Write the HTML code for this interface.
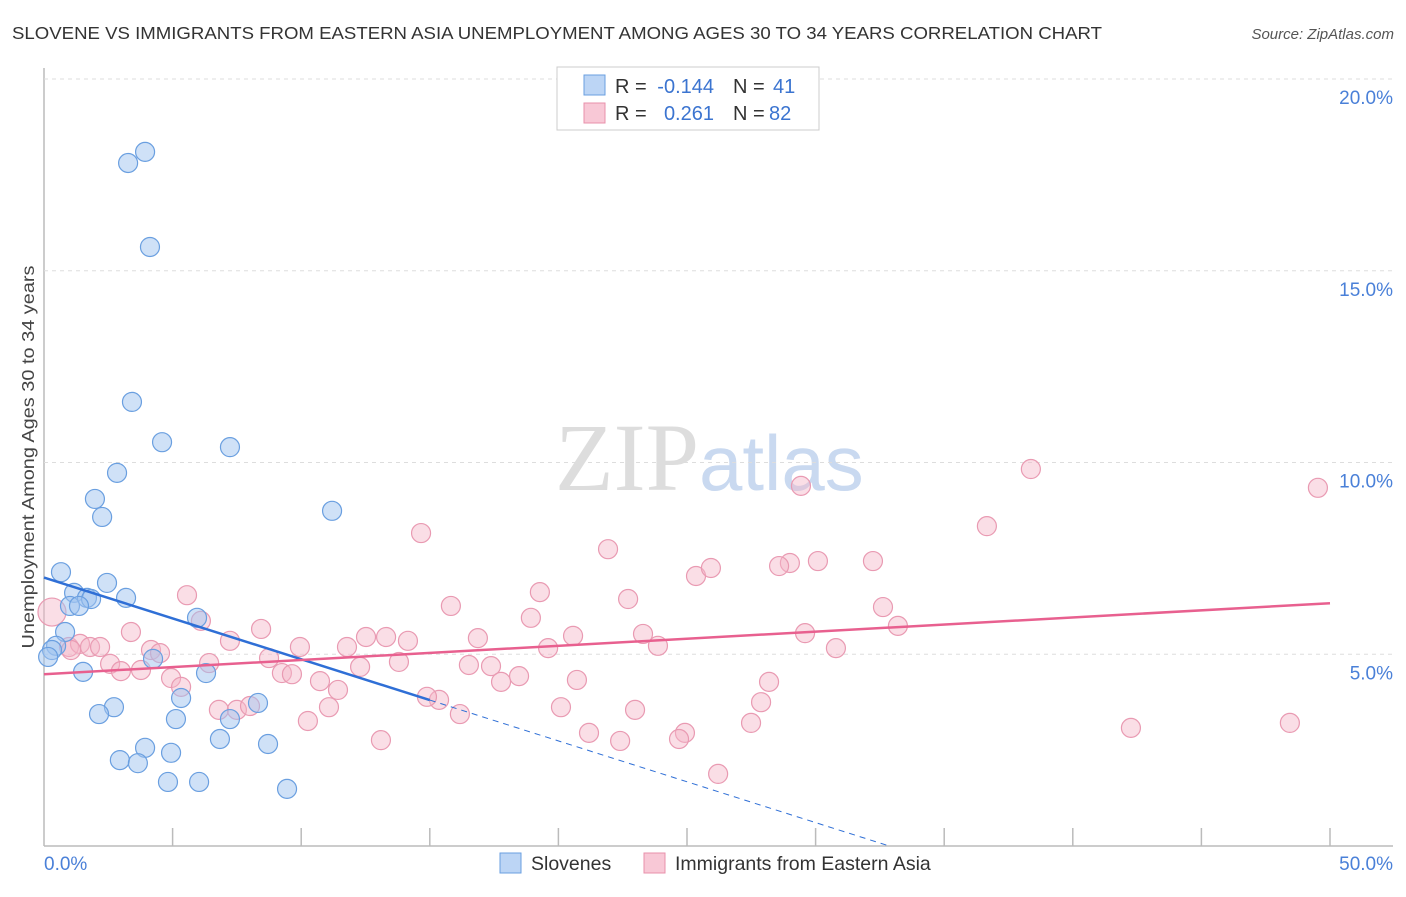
<!DOCTYPE html>
<html><head><meta charset="utf-8"><style>
body{margin:0;background:#fff;font-family:"Liberation Sans",sans-serif;}
</style></head><body>
<svg id="chart" width="1406" height="892" xmlns="http://www.w3.org/2000/svg" font-family="Liberation Sans, sans-serif">
<text x="12" y="39" font-size="17.5" fill="#333" textLength="1090" lengthAdjust="spacingAndGlyphs">SLOVENE VS IMMIGRANTS FROM EASTERN ASIA UNEMPLOYMENT AMONG AGES 30 TO 34 YEARS CORRELATION CHART</text>
<text x="1394" y="39" font-size="15" fill="#555" text-anchor="end" font-style="italic">Source: ZipAtlas.com</text>
<text transform="translate(34,457) rotate(-90)" font-size="17.5" fill="#444" text-anchor="middle" textLength="383" lengthAdjust="spacingAndGlyphs">Unemployment Among Ages 30 to 34 years</text>
<text x="555" y="490" font-size="96" fill="#ddd" font-family="Liberation Serif, serif">ZIP<tspan fill="#c9d9f0" font-family="Liberation Sans, sans-serif" font-size="78">atlas</tspan></text>
<g id="grid"></g><g id="marks"></g>
<g>
<rect x="557" y="67" width="262" height="63" fill="#fff" stroke="#ccc"/>
<rect x="584" y="75" width="21" height="20" fill="#bcd5f5" stroke="#6a9fe0"/>
<rect x="584" y="103" width="21" height="20" fill="#f8c8d6" stroke="#e890ab"/>
<text x="615" y="93" font-size="20" fill="#333">R =</text>
<text x="714" y="93" font-size="20" fill="#3b74d0" text-anchor="end">-0.144</text>
<text x="733" y="93" font-size="20" fill="#333">N =</text>
<text x="773" y="93" font-size="20" fill="#3b74d0">41</text>
<text x="615" y="120" font-size="20" fill="#333">R =</text>
<text x="714" y="120" font-size="20" fill="#3b74d0" text-anchor="end">0.261</text>
<text x="733" y="120" font-size="20" fill="#333">N =</text>
<text x="769" y="120" font-size="20" fill="#3b74d0">82</text>
</g>
<g>
<rect x="500" y="853" width="21" height="20" fill="#bcd5f5" stroke="#6a9fe0"/>
<text x="531" y="870" font-size="19.5" fill="#333">Slovenes</text>
<rect x="644" y="853" width="21" height="20" fill="#f8c8d6" stroke="#e890ab"/>
<text x="675" y="870" font-size="19.5" fill="#333">Immigrants from Eastern Asia</text>
</g>
</svg>
<script>
const xTicks=[0,5,10,15,20,25,30,35,40,45,50];
const yTicks=[5,10,15,20];
const blueX=[3.93,3.27,4.12,3.42,4.59,7.23,2.84,1.98,2.26,11.20,0.66,2.45,1.17,1.67,1.83,3.19,1.01,1.36,5.95,0.82,0.47,0.31,0.16,4.24,1.52,6.30,5.33,2.72,8.32,2.14,5.13,7.23,6.84,8.71,3.93,4.94,2.95,3.65,4.82,6.03,9.45];
const blueY=[18.10,17.81,15.62,11.58,10.53,10.40,9.73,9.05,8.58,8.74,7.14,6.86,6.60,6.47,6.44,6.47,6.26,6.26,5.95,5.58,5.22,5.11,4.93,4.88,4.54,4.51,3.86,3.62,3.73,3.44,3.31,3.31,2.79,2.66,2.56,2.43,2.24,2.16,1.67,1.67,1.49];
const pinkX=[5.56,0.31,3.38,6.10,0.97,1.40,1.79,2.18,1.05,2.57,2.99,3.77,4.16,4.51,4.94,5.33,6.42,7.23,8.44,8.75,9.25,9.64,9.95,10.73,11.43,11.08,10.26,6.80,7.50,8.01,11.78,14.66,15.82,19.28,21.93,18.93,16.87,13.30,12.52,14.15,12.29,13.80,16.52,17.38,19.60,20.57,22.71,23.29,23.87,20.72,18.47,17.77,15.36,14.89,16.17,20.10,21.19,22.40,22.98,13.10,25.35,25.93,29.00,28.58,30.09,32.23,29.43,32.62,33.20,29.59,30.79,28.19,27.88,27.49,24.92,24.69,26.21,36.66,38.37,49.53,42.26,48.44];
const pinkY=[6.54,6.10,5.58,5.87,5.19,5.27,5.19,5.19,5.11,4.75,4.56,4.59,5.11,5.03,4.38,4.15,4.77,5.35,5.66,4.90,4.51,4.48,5.19,4.30,4.07,3.62,3.26,3.55,3.55,3.65,5.19,8.16,6.26,6.62,7.74,5.95,5.42,5.45,5.45,5.35,4.67,4.80,4.72,4.69,5.16,5.48,6.44,5.53,5.22,4.33,4.43,4.28,3.81,3.89,3.44,3.62,2.95,2.74,3.55,2.76,7.04,7.25,7.38,7.30,7.43,7.43,9.39,6.23,5.74,5.55,5.16,4.28,3.75,3.21,2.95,2.79,1.88,8.34,9.83,9.34,3.08,3.21];
const blueTrend=[7.0,-0.213];
const pinkTrend=[4.48,0.037];
const NS="http://www.w3.org/2000/svg";
const sx=v=>44+v*25.72, sy=v=>846-v*38.35;
function mk(t,a,p){const e=document.createElementNS(NS,t);for(const k in a)e.setAttribute(k,a[k]);p.appendChild(e);return e;}
const g=document.getElementById('grid'), m=document.getElementById('marks');
let ax=mk('line',{x1:44,y1:68,x2:44,y2:846,stroke:'#bbb','stroke-width':1.5},g);


let bx=mk('line',{x1:44,y1:846,x2:1393,y2:846,stroke:'#bbb','stroke-width':1.5},g);


yTicks.forEach(v=>{
 const l=mk('line',{x1:44,y1:sy(v),x2:1393,y2:sy(v),stroke:'#ddd','stroke-dasharray':'4,4'},g);
 
 
 const t=mk('text',{x:1393,y:sy(v)+25,'font-size':19,fill:'#4a80d8','text-anchor':'end'},g);
 t.textContent=v.toFixed(1)+'%';
 
 
});
xTicks.forEach(v=>{
 if(v>0){const l=mk('line',{x1:sx(v),y1:828,x2:sx(v),y2:846,stroke:'#bbb','stroke-width':1.5},g);
 
 }
});
[[0,'0.0%','start',44],[50,'50.0%','end',1393]].forEach(a=>{
 const t=mk('text',{x:a[3],y:870,'font-size':19,fill:'#4a80d8','text-anchor':a[2]},g);
 t.textContent=a[1];
 
 
});
pinkX.forEach((x,i)=>{
 const c=mk('circle',{cx:sx(x),cy:sy(pinkY[i]),r:i==1?14:9.5,fill:'rgba(244,182,200,0.45)',stroke:'#e99ab2','stroke-width':1.2},m);
 
 
});
blueX.forEach((x,i)=>{
 const c=mk('circle',{cx:sx(x),cy:sy(blueY[i]),r:9.5,fill:'rgba(160,196,240,0.5)',stroke:'#6a9fe0','stroke-width':1.2},m);
 
 
});
const bl=mk('line',{x1:sx(0),y1:sy(blueTrend[0]),x2:sx(15),y2:sy(blueTrend[0]+15*blueTrend[1]),stroke:'#2f6fd6','stroke-width':2.5},m);


const xz=-blueTrend[0]/blueTrend[1];
const bd=mk('line',{x1:sx(15),y1:sy(blueTrend[0]+15*blueTrend[1]),x2:sx(xz),y2:sy(0),stroke:'#2f6fd6','stroke-width':1,'stroke-dasharray':'6,5'},m);


const pl=mk('line',{x1:sx(0),y1:sy(pinkTrend[0]),x2:sx(50),y2:sy(pinkTrend[0]+50*pinkTrend[1]),stroke:'#e8608f','stroke-width':2.5},m);


</script>
</body></html>
